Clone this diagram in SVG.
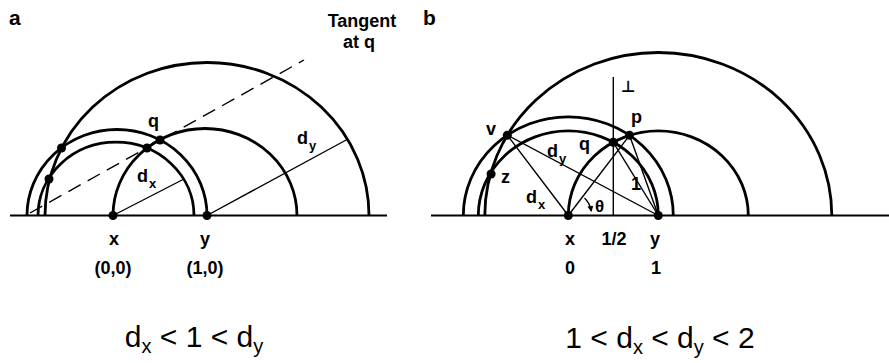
<svg xmlns="http://www.w3.org/2000/svg" width="889" height="363" viewBox="0 0 889 363">
<defs>
<style>
.arc{fill:none;stroke:#000;stroke-width:2.8}
.base{stroke:#000;stroke-width:2}
.thin{fill:none;stroke:#000;stroke-width:1.4}
.dash{stroke-dasharray:14 8}
.dot{fill:#000}
text{font-family:"Liberation Sans",Arial,sans-serif;fill:#000}
.lbl{font-weight:bold;font-size:18px}
.panel{font-weight:bold;font-size:21px}
.sub{font-weight:bold;font-size:13px}
.f{font-size:30px;text-anchor:middle}
.fs{font-size:20px}
.mid{text-anchor:middle}
</style>
<marker id="ah" viewBox="0 0 6 6" refX="5" refY="3" markerWidth="6" markerHeight="6" orient="auto" markerUnits="userSpaceOnUse">
<path d="M0,0 L6,3 L0,6 Z" fill="#000"/>
</marker>
</defs>
<rect width="889" height="363" fill="#fff"/>

<!-- Panel a -->
<g id="panel-a">
<text class="panel" x="9" y="25">a</text>
<g id="a-connectors">
<line class="base" x1="10" y1="215.5" x2="387" y2="215.5"/>
<path class="arc" d="M45,215.5 A162,153 0 0 1 369,215.5"/>
<path class="arc" d="M113,215.5 A92,87 0 0 1 297,215.5"/>
<path class="arc" d="M27,215.5 A90,86 0 0 1 207,215.5"/>
<path class="arc" d="M38,215.5 A78,73.3 0 0 1 194,215.5"/>
<line class="thin" x1="113" y1="215.5" x2="183" y2="179.5"/>
<line class="thin" x1="207" y1="215.5" x2="348" y2="139"/>
<line class="thin dash" x1="30" y1="213" x2="304" y2="60"/>
</g>
<g id="a-x"><circle class="dot" cx="113" cy="215.5" r="4.5"/><text class="lbl mid" x="114" y="245">x</text><text class="lbl mid" x="113" y="274">(0,0)</text></g>
<g id="a-y"><circle class="dot" cx="207" cy="215.5" r="4.5"/><text class="lbl mid" x="205" y="245">y</text><text class="lbl mid" x="205" y="274">(1,0)</text></g>
<g id="a-q"><circle class="dot" cx="160" cy="140" r="4.5"/><text class="lbl" x="148" y="127">q</text></g>
<g id="a-q2"><circle class="dot" cx="147" cy="148" r="4.5"/></g>
<g id="a-p1"><circle class="dot" cx="61.5" cy="148" r="4.5"/></g>
<g id="a-p2"><circle class="dot" cx="49" cy="179" r="4.5"/></g>
<g id="a-tangent"><text class="lbl mid" x="362" y="27">Tangent</text><text class="lbl mid" x="359" y="48">at q</text></g>
<g id="a-dy"><text class="lbl" x="297" y="144">d</text><text class="sub" x="309" y="150">y</text></g>
<g id="a-dx"><text class="lbl" x="137" y="182">d</text><text class="sub" x="149" y="188">x</text></g>
<g id="a-formula">
<text class="f" x="194" y="347">d<tspan class="fs" dy="6">x</tspan><tspan dy="-6"> &lt; 1 &lt; d</tspan><tspan class="fs" dy="6">y</tspan></text>
</g>
</g>

<!-- Panel b -->
<g id="panel-b">
<text class="panel" x="423" y="25">b</text>
<g id="b-connectors">
<line class="base" x1="431" y1="215.5" x2="889" y2="215.5"/>
<path class="arc" d="M484.8,215.5 A173.5,163 0 0 1 831.8,215.5"/>
<path class="arc" d="M463.3,215.5 A105,98.7 0 0 1 673.3,215.5"/>
<path class="arc" d="M568.3,215.5 A90,84.6 0 0 1 748.3,215.5"/>
<path class="arc" d="M478.3,215.5 A90,84.6 0 0 1 658.3,215.5"/>
<line class="thin" x1="613.3" y1="77" x2="613.3" y2="215.5"/>
<line class="thin" x1="507.3" y1="135.2" x2="568.3" y2="215.5"/>
<line class="thin" x1="507.3" y1="135.2" x2="658.3" y2="215.5"/>
<line class="thin" x1="568.3" y1="215.5" x2="629.5" y2="135.3"/>
<line class="thin" x1="658.3" y1="215.5" x2="613.3" y2="142.3"/>
<line class="thin" x1="658.3" y1="215.5" x2="629.5" y2="135.3"/>
<path class="thin" d="M584.5,198 A23,23 0 0 1 591.2,211" marker-end="url(#ah)"/>
</g>
<g id="b-x"><circle class="dot" cx="568.3" cy="215.5" r="4.5"/><text class="lbl mid" x="570" y="245">x</text><text class="lbl mid" x="570" y="274">0</text></g>
<g id="b-half"><text class="lbl mid" x="614" y="245">1/2</text></g>
<g id="b-y"><circle class="dot" cx="658.3" cy="215.5" r="4.5"/><text class="lbl mid" x="655" y="245">y</text><text class="lbl mid" x="656" y="274">1</text></g>
<g id="b-v"><circle class="dot" cx="507.3" cy="135.2" r="4.5"/><text class="lbl" x="486" y="135">v</text></g>
<g id="b-z"><circle class="dot" cx="491.1" cy="174" r="4.5"/><text class="lbl" x="501" y="183">z</text></g>
<g id="b-q"><circle class="dot" cx="613.3" cy="142.3" r="4.5"/><text class="lbl" x="579" y="150">q</text></g>
<g id="b-p"><circle class="dot" cx="629.5" cy="135.3" r="4.5"/><text class="lbl" x="631" y="123">p</text></g>
<g id="b-perp"><text x="621" y="92" style="font-family:'DejaVu Sans',sans-serif;font-size:16px;font-weight:bold">⊥</text></g>
<g id="b-dy"><text class="lbl" x="547" y="157">d</text><text class="sub" x="559" y="163">y</text></g>
<g id="b-dx"><text class="lbl" x="526" y="203">d</text><text class="sub" x="538" y="209">x</text></g>
<g id="b-one"><text class="lbl" x="631" y="190">1</text></g>
<g id="b-theta"><text x="595" y="212" style="font-size:17px;font-weight:bold">θ</text></g>
<g id="b-formula">
<text class="f" x="660" y="348">1 &lt; d<tspan class="fs" dy="6">x</tspan><tspan dy="-6"> &lt; d</tspan><tspan class="fs" dy="6">y</tspan><tspan dy="-6"> &lt; 2</tspan></text>
</g>
</g>
</svg>
